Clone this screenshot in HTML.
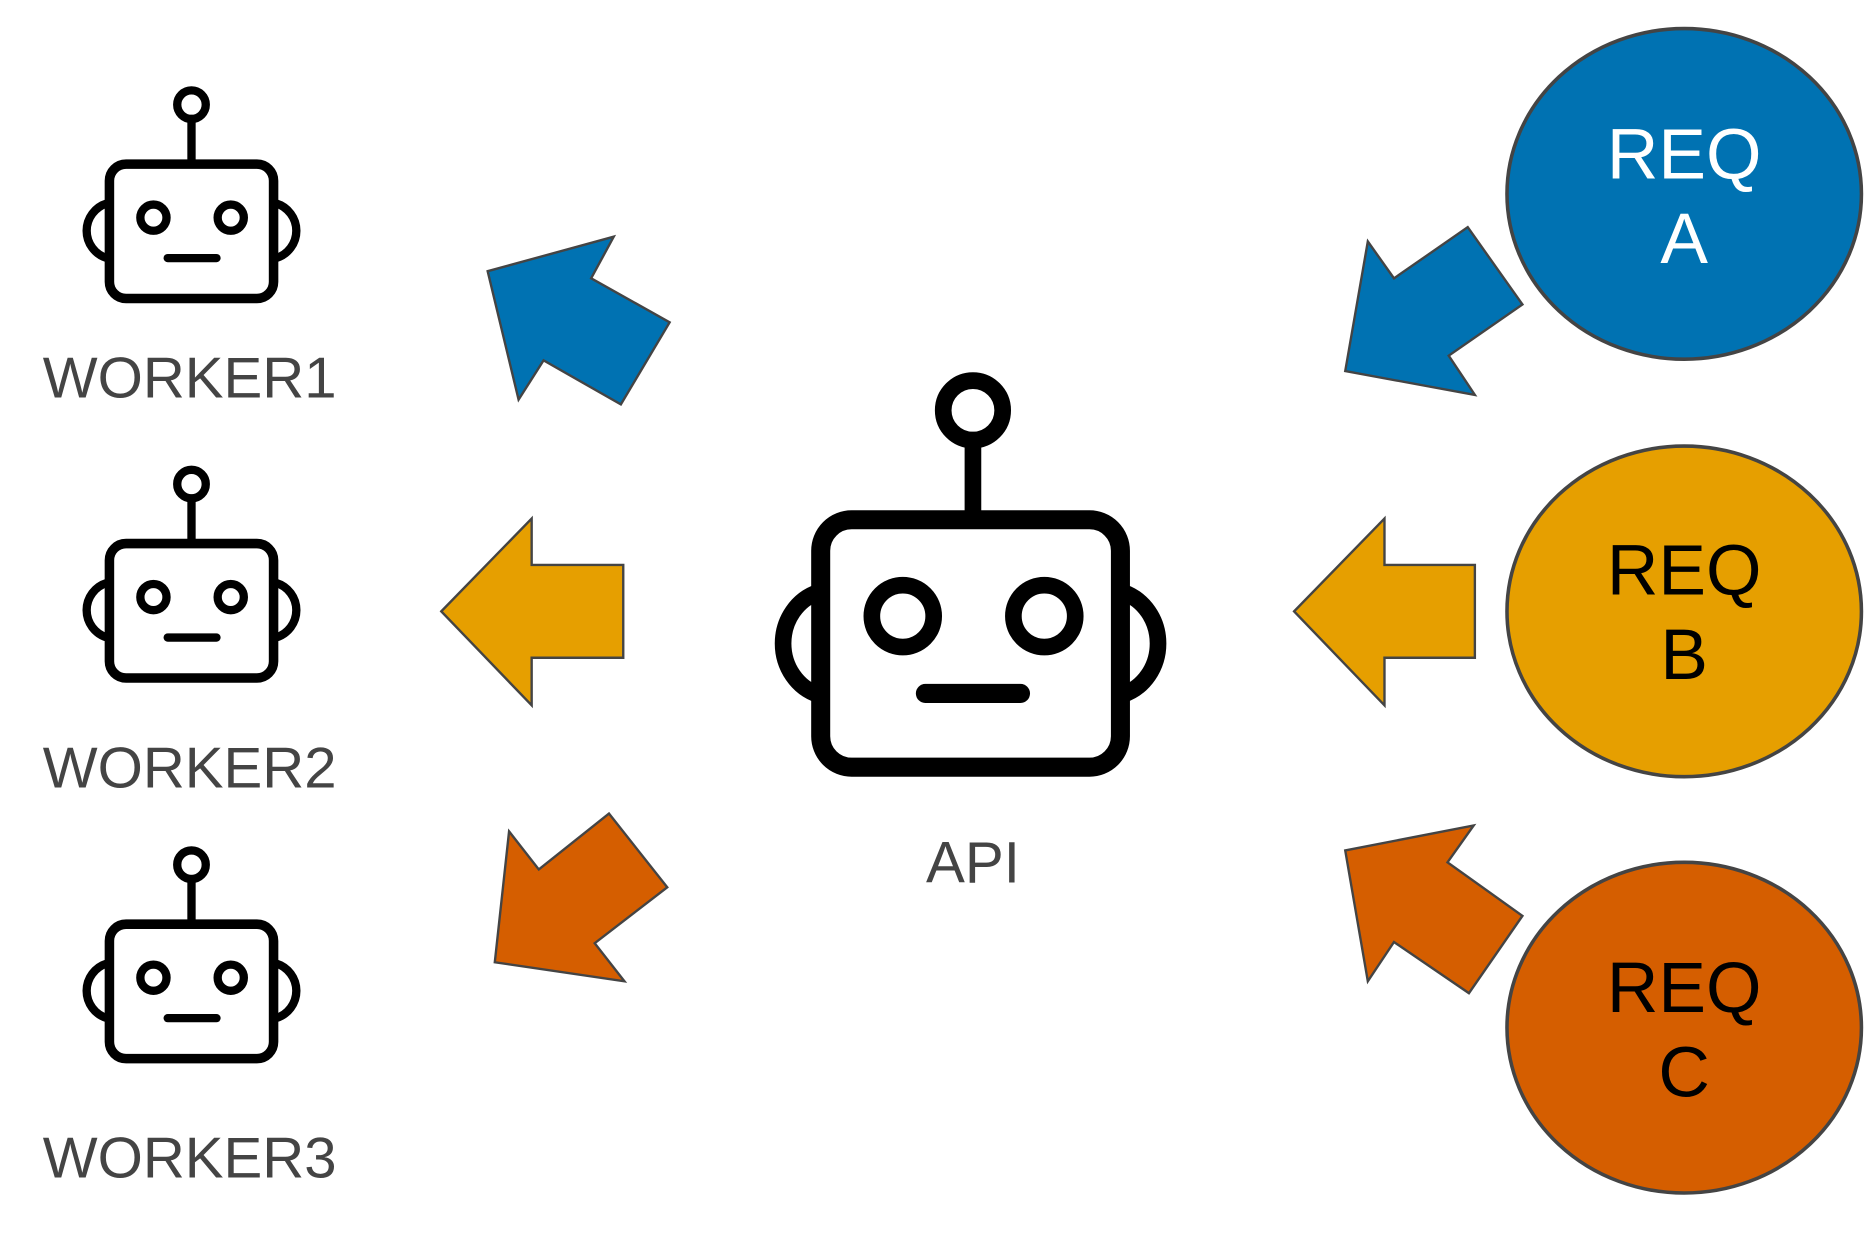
<!DOCTYPE html>
<html><head><meta charset="utf-8"><style>
html,body{margin:0;padding:0;background:#fff;}
svg{display:block;}
</style></head><body>
<svg width="1865" height="1237" viewBox="0 0 1568 1040" preserveAspectRatio="none" xmlns="http://www.w3.org/2000/svg">
<defs>
<g id="wr" fill="none" stroke="#000" stroke-linecap="round">
  <circle cx="161" cy="88" r="12" stroke-width="7"/>
  <line x1="161" y1="100" x2="161" y2="138" stroke-width="7"/>
  <rect x="92" y="138" width="138" height="113" rx="14" stroke-width="8"/>
  <path d="M90,171 A24,24 0 0 0 90,217" stroke-width="7"/>
  <path d="M232,171 A24,24 0 0 1 232,217" stroke-width="7"/>
  <circle cx="129" cy="183" r="11" stroke-width="7"/>
  <circle cx="194" cy="183" r="11" stroke-width="7"/>
  <line x1="141" y1="217" x2="182" y2="217" stroke-width="7"/>
</g>
</defs>
<rect width="1568" height="1040" fill="#fff"/>
<use href="#wr"/>
<use href="#wr" transform="translate(0,319)"/>
<use href="#wr" transform="translate(0,639)"/>
<g font-family="Liberation Sans, sans-serif" fill="#444" font-size="48">
<text x="36" y="334" textLength="247" lengthAdjust="spacingAndGlyphs">WORKER1</text>
<text x="36" y="662" textLength="247" lengthAdjust="spacingAndGlyphs">WORKER2</text>
<text x="36" y="990" textLength="247" lengthAdjust="spacingAndGlyphs">WORKER3</text>
<text x="818" y="742" text-anchor="middle" font-size="49">API</text>
</g>
<g fill="none" stroke="#000" stroke-linecap="round">
  <circle cx="818" cy="345" r="25" stroke-width="14"/>
  <line x1="818" y1="370" x2="818" y2="437" stroke-width="14"/>
  <rect x="690" y="437" width="252" height="208" rx="26" stroke-width="16"/>
  <path d="M688,498 A42,45 0 0 0 688,584" stroke-width="14"/>
  <path d="M944,498 A42,45 0 0 1 944,584" stroke-width="14"/>
  <circle cx="759" cy="518" r="26" stroke-width="14"/>
  <circle cx="878" cy="518" r="26" stroke-width="14"/>
  <line x1="778" y1="583" x2="858" y2="583" stroke-width="16"/>
</g>
<g stroke="#444" stroke-width="2" stroke-linejoin="miter">
<polygon fill="#0072b2" points="410,228 516,199 497,234 563,271 522,340 457,303 436,336"/>
<polygon fill="#e69f00" points="371,514 447,436 447,475 524,475 524,553 447,553 447,593"/>
<polygon fill="#d55e00" points="428,699 453,731 512,684 561,746 500,793 525,825 416,809"/>
<polygon fill="#0072b2" points="1131,312 1150,203 1172,234 1234,191 1280,256 1218,299 1240,332"/>
<polygon fill="#e69f00" points="1088,514 1164,436 1164,475 1240,475 1240,553 1164,553 1164,593"/>
<polygon fill="#d55e00" points="1131,715 1239,694 1217,725 1280,770 1235,835 1172,792 1150,825"/>
</g>
<g stroke="#444" stroke-width="3">
<ellipse cx="1416" cy="163" rx="149" ry="139" fill="#0072b2"/>
<ellipse cx="1416" cy="514" rx="149" ry="139" fill="#e69f00"/>
<ellipse cx="1416" cy="864" rx="149" ry="139" fill="#d55e00"/>
</g>
<g font-family="Liberation Sans, sans-serif" font-size="60" text-anchor="middle">
<text x="1416" y="150" fill="#fff">REQ</text>
<text x="1416" y="221" fill="#fff">A</text>
<text x="1416" y="500" fill="#000">REQ</text>
<text x="1416" y="571" fill="#000">B</text>
<text x="1416" y="851" fill="#000">REQ</text>
<text x="1416" y="922" fill="#000">C</text>
</g>
</svg>
</body></html>
